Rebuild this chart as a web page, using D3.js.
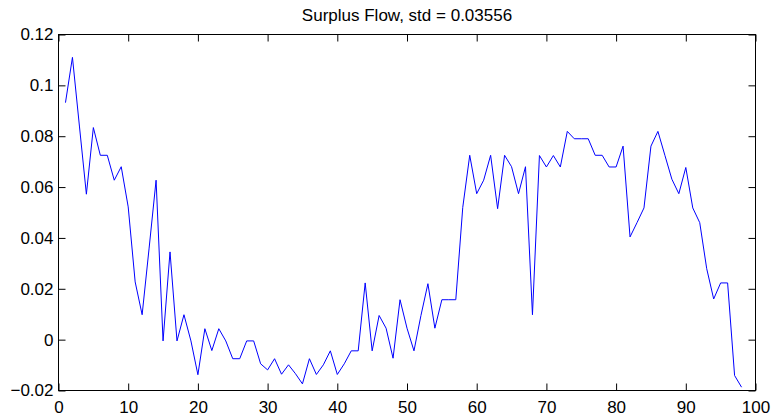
<!DOCTYPE html>
<html>
<head>
<meta charset="utf-8">
<script src="https://cdn.jsdelivr.net/npm/d3@7"></script>
<style>
  body { margin: 0; background: #fff; }
  text { font-family: "Liberation Sans", Arial, sans-serif; }
</style>
</head>
<body>
<script>
var w = 773;
var h = 420;

// chart data (sample 1..98)
var title = "Surplus Flow, std = 0.03556";
var flow = [
  0.0932, 0.111, 0.084, 0.0572, 0.0834, 0.0725, 0.0725, 0.0627, 0.068, 0.0522,
  0.0227, 0.0098, 0.036, 0.0627, -0.0005, 0.0345, -0.0005, 0.0098, -0.0005, -0.0138,
  0.0043, -0.0043, 0.0043, -0.0005, -0.0075, -0.0075, -0.0005, -0.0005, -0.0095, -0.0119,
  -0.0075, -0.0136, -0.0099, -0.0134, -0.0174, -0.0075, -0.0137, -0.0099, -0.0044, -0.0137,
  -0.0095, -0.0044, -0.0044, 0.0223, -0.0044, 0.0095, 0.0045, -0.0073, 0.0157, 0.0045,
  -0.0044, 0.0095, 0.022, 0.0045, 0.0157, 0.0157, 0.0157, 0.052, 0.0725, 0.0574,
  0.0627, 0.0725, 0.0515, 0.0725, 0.068, 0.0574, 0.068, 0.0098, 0.0724, 0.0679,
  0.0724, 0.0679, 0.0819, 0.079, 0.079, 0.079, 0.0725, 0.0725, 0.0679, 0.0679,
  0.0761, 0.0404, 0.046, 0.0518, 0.0761, 0.0819, 0.0725, 0.0631, 0.0574, 0.0677,
  0.0518, 0.046, 0.0279, 0.016, 0.0223, 0.0223, -0.0141, -0.0187
];
var xTicks = [0, 10, 20, 30, 40, 50, 60, 70, 80, 90, 100];
var yTicks = [-0.02, 0, 0.02, 0.04, 0.06, 0.08, 0.1, 0.12];
var yLabels = ["\u22120.02", "0", "0.02", "0.04", "0.06", "0.08", "0.1", "0.12"];

var margin = {top: 34.5, right: 17.5, bottom: 29.5, left: 58.5};
var pw = w - margin.left - margin.right;
var ph = h - margin.top - margin.bottom;

var svg = d3.select("body").append("svg")
          .attr("width", w)
          .attr("height", h);

var g = svg.append("g")
           .attr("transform", "translate(" + margin.left + "," + margin.top + ")");

var x = d3.scaleLinear().domain([0, 100]).range([0, pw]);
var y = d3.scaleLinear().domain([-0.02, 0.12]).range([ph, 0]);

// bottom axis with labels, ticks pointing in
var xAxis = g.append("g")
             .attr("transform", "translate(0," + ph + ")")
             .call(d3.axisBottom(x).tickValues(xTicks).tickSizeInner(-7).tickSizeOuter(0).tickPadding(10).tickFormat(d3.format("d")));

// top axis, ticks only
var xTop = g.append("g")
            .call(d3.axisTop(x).tickValues(xTicks).tickSizeInner(-7).tickSizeOuter(0).tickFormat(""));

// left axis with labels
var yAxis = g.append("g")
             .call(d3.axisLeft(y).tickValues(yTicks).tickSizeInner(-7).tickSizeOuter(0).tickPadding(5)
                   .tickFormat(function(d, i) { return yLabels[i]; }));

// right axis, ticks only
var yRight = g.append("g")
              .attr("transform", "translate(" + pw + ",0)")
              .call(d3.axisRight(y).tickValues(yTicks).tickSizeInner(-7).tickSizeOuter(0).tickFormat(""));

g.selectAll(".domain").remove();
g.selectAll(".tick line").attr("stroke", "#000");
g.selectAll(".tick text")
 .attr("fill", "#000")
 .style("font-size", "17px");

// box
g.append("rect")
 .attr("x", 0)
 .attr("y", 0)
 .attr("width", pw)
 .attr("height", ph)
 .attr("fill", "none")
 .attr("stroke", "#000")
 .attr("stroke-width", 1);

// data line
var line = d3.line()
             .x(function(d, i) { return x(i + 1); })
             .y(function(d) { return y(d); });

g.append("path")
 .datum(flow)
 .attr("d", line)
 .attr("fill", "none")
 .attr("stroke", "#0000ff")
 .attr("stroke-width", 1);

// title
svg.append("text")
   .attr("x", margin.left + pw / 2)
   .attr("y", 21)
   .attr("text-anchor", "middle")
   .style("font-size", "17px")
   .attr("fill", "#000")
   .text(title);
</script>
</body>
</html>
